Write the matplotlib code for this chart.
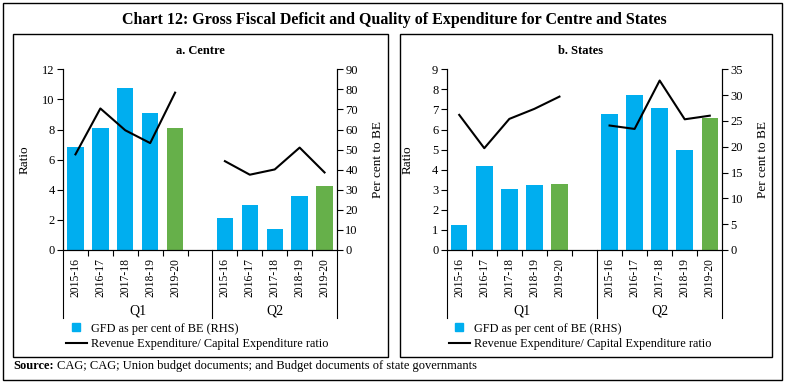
import matplotlib
matplotlib.use("Agg")
import matplotlib.pyplot as plt
import numpy as np
from matplotlib.lines import Line2D
from matplotlib.patches import Rectangle
from matplotlib.transforms import blended_transform_factory

plt.rcParams["font.family"] = ["Liberation Serif", "DejaVu Serif"]

years = ["2015-16", "2016-17", "2017-18", "2018-19", "2019-20"]
quarters = ["Q1", "Q2"]

# GFD as per cent of BE (RHS), Q1 then Q2
centre_gfd = [51.5, 61.0, 80.5, 68.0, 61.0, 16.1, 22.4, 10.6, 26.7, 31.9]
states_gfd = [4.9, 16.2, 11.9, 12.6, 12.8, 26.3, 30.1, 27.6, 19.4, 25.5]
# Revenue expenditure / capital expenditure ratio (LHS)
centre_ratio = [6.35, 9.4, 7.95, 7.1, 10.45, 5.9, 5.0, 5.35, 6.8, 5.15]
states_ratio = [6.73, 5.07, 6.53, 7.03, 7.64, 6.2, 6.03, 8.44, 6.51, 6.69]

BLUE = "#00AEEF"
GREEN = "#66B04A"

W, H = 788, 385
fig = plt.figure(figsize=(W / 100, H / 100), dpi=100)


def fx(px):
    return px / W


def fy(py):
    return 1 - py / H


# slots: 5 years, blank, 5 years
xpos = np.array([0, 1, 2, 3, 4, 6, 7, 8, 9, 10])
colors = [BLUE] * 4 + [GREEN] + [BLUE] * 4 + [GREEN]


def panel(left_px, right_px, gfd, ratio, ylim_l, yticks_l, ylim_r, yticks_r):
    ax = fig.add_axes([fx(left_px), fy(250), fx(right_px - left_px), (250 - 69.3) / H])
    ax2 = ax.twinx()
    ax.set_zorder(ax2.get_zorder() + 1)
    ax.patch.set_visible(False)

    ax2.bar(xpos, gfd, width=0.66, color=colors)
    ax.plot(xpos[:5], ratio[:5], color="black", lw=1.5)
    ax.plot(xpos[5:], ratio[5:], color="black", lw=1.5)

    ax.set_xlim(-0.5, 10.5)
    ax.set_ylim(*ylim_l)
    ax.set_yticks(yticks_l)
    ax2.set_ylim(*ylim_r)
    ax2.set_yticks(yticks_r)

    for a in (ax, ax2):
        a.spines["top"].set_visible(False)
        for s in a.spines.values():
            s.set_linewidth(0.8)
        a.tick_params(axis="y", labelsize=9, length=4, width=0.8, pad=2)

    ax.set_xticks(xpos)
    ax.set_xticklabels(years * 2, rotation=90, fontsize=8.4)
    ax.tick_params(axis="x", length=0, pad=6)
    ax.set_xticks([0.5, 1.5, 2.5, 3.5, 4.5, 6.5, 7.5, 8.5, 9.5], minor=True)
    ax.tick_params(axis="x", which="minor", length=4, width=0.8, direction="out")

    trans = blended_transform_factory(ax.transData, ax.transAxes)
    for x in (-0.5, 5.5, 10.5):
        ax.plot([x, x], [0, -0.376], transform=trans, color="black", lw=0.8, clip_on=False)
    for q, x in zip(quarters, (2.5, 8.0)):
        ax.text(x, -0.335, q, transform=trans, ha="center", va="center", fontsize=10)

    ax.set_ylabel("Ratio", fontsize=9.5)
    ax.yaxis.set_label_coords(-0.12, 0.5)
    ax2.set_ylabel("Per cent to BE", fontsize=9.5, rotation=90)
    ax2.yaxis.set_label_coords(1.127, 0.5)
    return ax


panel(63, 337, centre_gfd, centre_ratio, (0, 12), range(0, 13, 2), (0, 90), range(0, 91, 10))
panel(446.7, 722.3, states_gfd, states_ratio, (0, 9), range(0, 10), (0, 35), range(0, 36, 5))

# frames
fig.add_artist(Rectangle((fx(3), fy(380)), fx(779), 377 / H, transform=fig.transFigure,
                         fill=False, lw=1.0, ec="black"))
for l, r in ((13, 388), (400, 772)):
    fig.add_artist(Rectangle((fx(l), fy(356.5)), fx(r - l), (356.5 - 34) / H,
                             transform=fig.transFigure, fill=False, lw=1.0, ec="black"))

fig.text(0.5, fy(20), "Chart 12: Gross Fiscal Deficit and Quality of Expenditure for Centre and States",
         ha="center", va="center", fontsize=11.5, fontweight="bold")
fig.text(fx(200), fy(51), "a. Centre", ha="center", va="center", fontsize=9, fontweight="bold")
fig.text(fx(580), fy(51), "b. States", ha="center", va="center", fontsize=9, fontweight="bold")

# legends
handles = [Line2D([], [], marker="s", color=BLUE, ls="none", markersize=6),
           Line2D([], [], color="black", lw=1.5)]
labels = ["GFD as per cent of BE (RHS)", "Revenue Expenditure/ Capital Expenditure ratio"]
for x0 in (66, 449):
    fig.legend(handles, labels, loc="center left", bbox_to_anchor=(fx(x0), fy(336.5)),
               frameon=False, fontsize=8.8, handlelength=1.7, handletextpad=0.35,
               labelspacing=0.3, borderpad=0, borderaxespad=0)

# source line
r = fig.canvas.get_renderer()
t = fig.text(fx(13), fy(366), "Source:", ha="left", va="center", fontsize=9, fontweight="bold")
bb = t.get_window_extent(renderer=r)
fig.text(bb.x1 / W + fx(3), fy(366),
         "CAG; CAG; Union budget documents; and Budget documents of state governmants",
         ha="left", va="center", fontsize=9)

fig.savefig("out.png", dpi=100)
